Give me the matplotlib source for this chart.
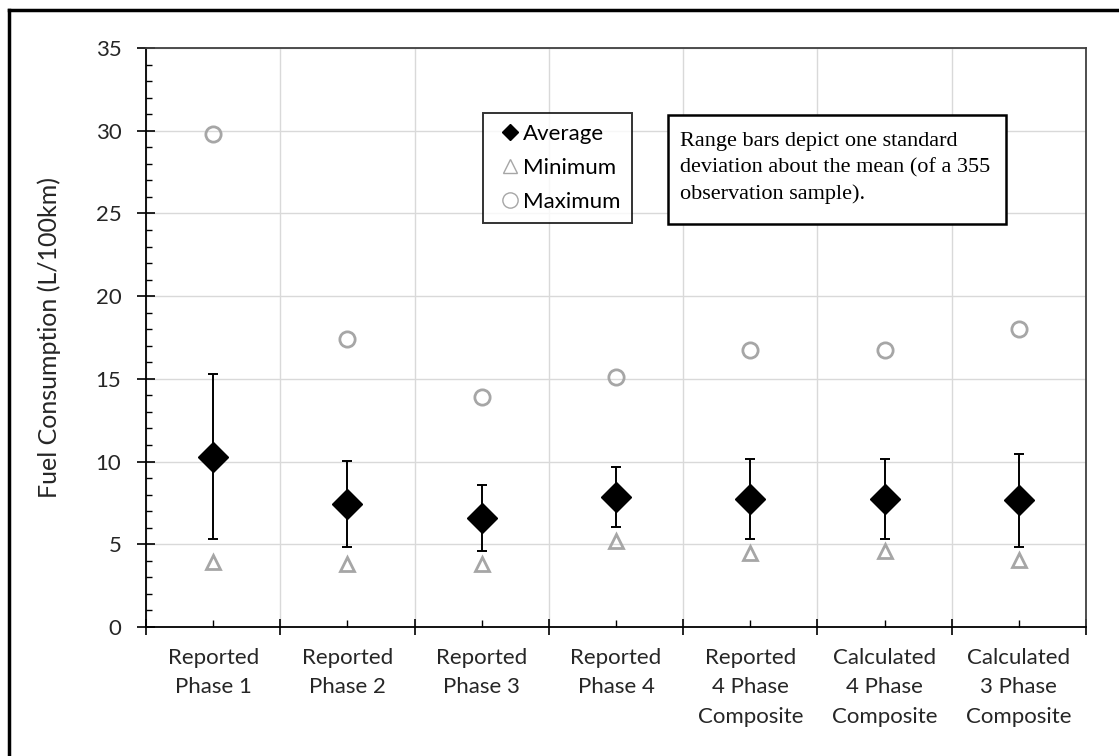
import matplotlib
matplotlib.use("Agg")
import matplotlib.pyplot as plt
from matplotlib.lines import Line2D
from matplotlib.patches import Rectangle
import numpy as np

categories = ["Reported\nPhase 1", "Reported\nPhase 2", "Reported\nPhase 3", "Reported\nPhase 4",
              "Reported\n4 Phase\nComposite", "Calculated\n4 Phase\nComposite", "Calculated\n3 Phase\nComposite"]
average = [10.3, 7.45, 6.6, 7.85, 7.73, 7.73, 7.65]
std_dev = [5.0, 2.6, 1.98, 1.82, 2.41, 2.41, 2.8]
minimum = [3.95, 3.8, 3.8, 5.2, 4.5, 4.6, 4.05]
maximum = [29.8, 17.4, 13.9, 15.1, 16.75, 16.75, 18.0]

plt.rcParams['font.family'] = ['Lato', 'DejaVu Sans']

W, H = 1119, 756
fig = plt.figure(figsize=(W/100, H/100), dpi=100)
ax = fig.add_axes([146/W, 1-627/H, 940/W, 579/H])

x = np.arange(1, len(categories) + 1)
gray = '#a6a6a6'
txt = '#262626'

ax.errorbar(x, average, yerr=std_dev, fmt='none', ecolor='black', elinewidth=1.4,
            capsize=3.8, capthick=1.4, zorder=3)
ax.plot(x, average, linestyle='none', marker='D', markersize=15, color='black', zorder=4)
ax.plot(x, minimum, linestyle='none', marker='^', markersize=10, markerfacecolor='none',
        markeredgecolor=gray, markeredgewidth=2, zorder=4)
ax.plot(x, maximum, linestyle='none', marker='o', markersize=11, markerfacecolor='none',
        markeredgecolor=gray, markeredgewidth=2, zorder=4)

ax.set_xlim(0.5, len(categories) + 0.5)
ax.set_ylim(0, 35)
ax.set_yticks(np.arange(0, 36, 5))
ax.set_yticks(np.arange(0, 36, 1), minor=True)
ax.set_xticks(np.arange(0.5, len(categories) + 1, 1))
ax.set_xticklabels([])
ax.set_xticks(x, minor=True)
ax.set_xticklabels(categories, minor=True, fontsize=16, color=txt, linespacing=1.6)

ax.tick_params(axis='y', which='major', direction='inout', length=13.5, width=1.2,
               labelsize=16, pad=11, colors='black', labelcolor=txt)
ax.tick_params(axis='y', which='minor', direction='in', length=4.5, width=1.0)
ax.tick_params(axis='x', which='major', direction='inout', length=11.5, width=1.2)
ax.tick_params(axis='x', which='minor', direction='in', length=5, width=1.0, pad=15)

ax.grid(True, which='major', color='#d9d9d9', linewidth=1.0, zorder=0)
ax.set_axisbelow(True)
for s in ['left', 'bottom']:
    ax.spines[s].set_color('black')
    ax.spines[s].set_linewidth(1.3)
for s in ['top', 'right']:
    ax.spines[s].set_color('#404040')
    ax.spines[s].set_linewidth(1.3)

ax.set_ylabel("Fuel Consumption (L/100km)", fontsize=18, color=txt, labelpad=25)

handles = [
    Line2D([], [], linestyle='none', marker='D', markersize=8, color='black'),
    Line2D([], [], linestyle='none', marker='^', markersize=10, markerfacecolor='none',
           markeredgecolor=gray, markeredgewidth=1),
    Line2D([], [], linestyle='none', marker='o', markersize=11, markerfacecolor='none',
           markeredgecolor=gray, markeredgewidth=1),
]
leg = ax.legend(handles, ["Average", "Minimum", "Maximum"], loc='upper left',
                bbox_to_anchor=((483-146)/940, (627-113)/579), fontsize=16,
                frameon=True, fancybox=False, edgecolor='black', handlelength=1.4,
                handletextpad=-0.1, borderpad=0.5, labelspacing=0.63, borderaxespad=0)
leg.get_frame().set_linewidth(1.4)

# annotation box
bx0, by0, bx1, by1 = 668, 115, 1006, 224
fig.add_artist(Rectangle((bx0/W, 1-by1/H), (bx1-bx0)/W, (by1-by0)/H, transform=fig.transFigure,
                         facecolor='white', edgecolor='black', linewidth=1.8, zorder=5))
fig.text(680/W, 1-132/H,
         "Range bars depict one standard\ndeviation about the mean (of a 355\nobservation sample).",
         ha='left', va='top', fontsize=16, family='Liberation Serif', linespacing=1.47,
         color='black', zorder=6)

fig.add_artist(Line2D([9/W, 9/W], [0, 1-10/H], color='black', linewidth=2.5,
                      transform=fig.transFigure))
fig.add_artist(Line2D([9/W, 1], [1-10/H, 1-10/H], color='black', linewidth=2.5,
                      transform=fig.transFigure))

fig.savefig("out.png", dpi=100)
